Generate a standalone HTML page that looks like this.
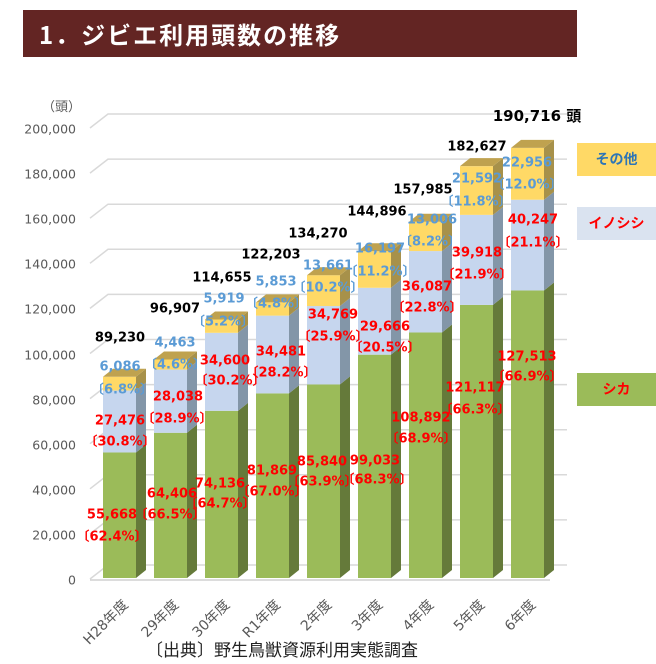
<!DOCTYPE html>
<html><head><meta charset="utf-8"><style>
body{margin:0;width:656px;height:664px;background:#fff;position:relative;overflow:hidden;font-family:"DejaVu Sans","Liberation Sans","Noto Sans CJK JP",sans-serif}
.t{position:absolute;left:23px;top:10px;width:554px;height:47px;background:#632523;color:#fff;font:bold 24px "Noto Sans CJK JP",sans-serif;line-height:47px;text-indent:16px;letter-spacing:2px}
.l{position:absolute;transform:translate(-50%,-50%);white-space:nowrap;font-weight:bold;font-size:13px;line-height:1}
.k{color:#000}.b{color:#5b9bd5}.r{color:#ff0000}
.ax{position:absolute;font-size:12.5px;color:#595959;transform:translateY(-50%);right:580px;text-align:right;font-family:"DejaVu Sans",sans-serif}
.x{position:absolute;font-size:14px;color:#595959;transform-origin:100% 50%;transform:rotate(-45deg);white-space:nowrap;font-family:"DejaVu Sans","Noto Sans CJK JP",sans-serif;text-align:right}
.lg{position:absolute;left:577px;width:79px;height:33px;font:bold 14px "Noto Sans CJK JP",sans-serif;text-align:center;line-height:33px}
</style></head><body>
<div class="t">1．ジビエ利用頭数の推移</div>
<svg width="656" height="664" style="position:absolute;left:0;top:0">
<g stroke="#d9d9d9" stroke-width="1.5" fill="none" id="grid"></g>
<g id="bars"></g>
</svg>
<div style="position:absolute;left:42px;top:96px;font-size:13px;color:#595959;font-family:'Noto Sans CJK JP',sans-serif">（頭）</div>
<div id="lab"></div>
<div class="lg" style="top:143px;background:#ffd966;color:#2e75b6">その他</div>
<div class="lg" style="top:207px;background:#dae3f0;color:#ff0000">イノシシ</div>
<div class="lg" style="top:373px;background:#9bbb59;color:#ff0000">シカ</div>
<div style="position:absolute;left:146px;top:636px;font:17px 'Noto Sans CJK JP',sans-serif;color:#222">〔出典〕野生鳥獣資源利用実態調査</div>
<script>
const Y=v=>578-v*0.002255;
let g='';
for(let v=0;v<=200000;v+=20000){const y=Y(v);g+=`<path d="M90 ${y+1} L108 ${y-13} L567 ${y-13}"/>`;
document.body.insertAdjacentHTML('beforeend',`<div class="ax" style="top:${y+2}px">${v.toLocaleString('en-US')}</div>`);}
g+=`<path d="M90 580 L550 580" stroke="#d0d0d0"/>`;
document.getElementById('grid').innerHTML=g;
const D=[[55668,27476,6086],[64406,28038,4463],[74136,34600,5919],[81869,34481,5853],[85840,34769,13661],[99033,29666,16197],[108892,36087,13006],[121117,39918,21592],[127513,40247,22956]];
const C=[["#9bbb59","#657a3a","#7f9a48"],["#c6d6ee","#8396a8","#a9b8cc"],["#ffd966","#a7914a","#bfa24f"]];
let s='';const w=33,dx=10,dy=8;
D.forEach((d,i)=>{const x=103+i*51;let acc=0;
d.forEach((v,j)=>{const y0=Y(acc),y1=Y(acc+v);acc+=v;
s+=`<rect x="${x}" y="${y1}" width="${w}" height="${y0-y1}" fill="${C[j][0]}"/>`;
s+=`<polygon points="${x+w},${y0} ${x+w+dx},${y0-dy} ${x+w+dx},${y1-dy} ${x+w},${y1}" fill="${C[j][1]}"/>`;});
const yt=Y(acc);s+=`<polygon points="${x},${yt} ${x+dx},${yt-dy} ${x+w+dx},${yt-dy} ${x+w},${yt}" fill="${C[2][2]}"/>`;});
document.getElementById('bars').innerHTML=s;
const L=[
['k','89,230',120,338],['k','96,907',175,309],['k','114,655',222,278],['k','122,203',271,255],['k','134,270',318,234],['k','144,896',377,212],['k','157,985',423,190],['k','182,627',477,147],
['b','6,086',120,367],['b','〔6.8%〕',122,390],['b','4,463',175,343],['b','〔4.6%〕',175,365],['b','5,919',224,299],['b','〔5.2%〕',223,322],['b','5,853',276,282],['b','〔4.8%〕',276,304],['b','13,661',328,266],['b','〔10.2%〕',328,288],['b','16,197',380,249],['b','〔11.2%〕',380,272],['b','13,006',432,220],['b','〔8.2%〕',430,242],['b','21,592',477,179],['b','〔11.8%〕',476,202],['b','22,956',527,163],['b','〔12.0%〕',527,185],
['r','27,476',120,421],['r','〔30.8%〕',120,442],['r','28,038',178,397],['r','〔28.9%〕',177,419],['r','34,600',225,361],['r','〔30.2%〕',230,381],['r','34,481',281,352],['r','〔28.2%〕',281,373],['r','34,769',333,315],['r','〔25.9%〕',333,337],['r','29,666',385,327],['r','〔20.5%〕',385,348],['r','36,087',427,287],['r','〔22.8%〕',427,308],['r','39,918',477,253],['r','〔21.9%〕',477,275],['r','40,247',533,220],['r','〔21.1%〕',533,243],
['r','55,668',112,515],['r','〔62.4%〕',112,537],['r','64,406',172,494],['r','〔66.5%〕',170,515],['r','74,136',220,484],['r','〔64.7%〕',220,504],['r','81,869',272,471],['r','〔67.0%〕',272,492],['r','85,840',322,462],['r','〔63.9%〕',322,482],['r','99,033',375,461],['r','〔68.3%〕',377,480],['r','108,892',421,418],['r','〔68.9%〕',421,439],['r','121,117',475,388],['r','〔66.3%〕',475,410],['r','127,513',527,357],['r','〔66.9%〕',527,377]];
let h='';L.forEach(a=>h+=`<div class="l ${a[0]}" style="left:${a[2]}px;top:${a[3]}px">${a[1]}</div>`);
h+=`<div class="l k" style="left:537px;top:116px;font-size:15px">190,716 <span style="font-family:'Noto Sans CJK JP',sans-serif">頭</span></div>`;
const X=['H28年度','29年度','30年度','R1年度','2年度','3年度','4年度','5年度','6年度'];
X.forEach((t,i)=>{const cx=103+i*51+22;h+=`<div class="x" style="right:${656-cx}px;top:592px">${t}</div>`;});
document.getElementById('lab').innerHTML=h;
</script>
</body></html>
